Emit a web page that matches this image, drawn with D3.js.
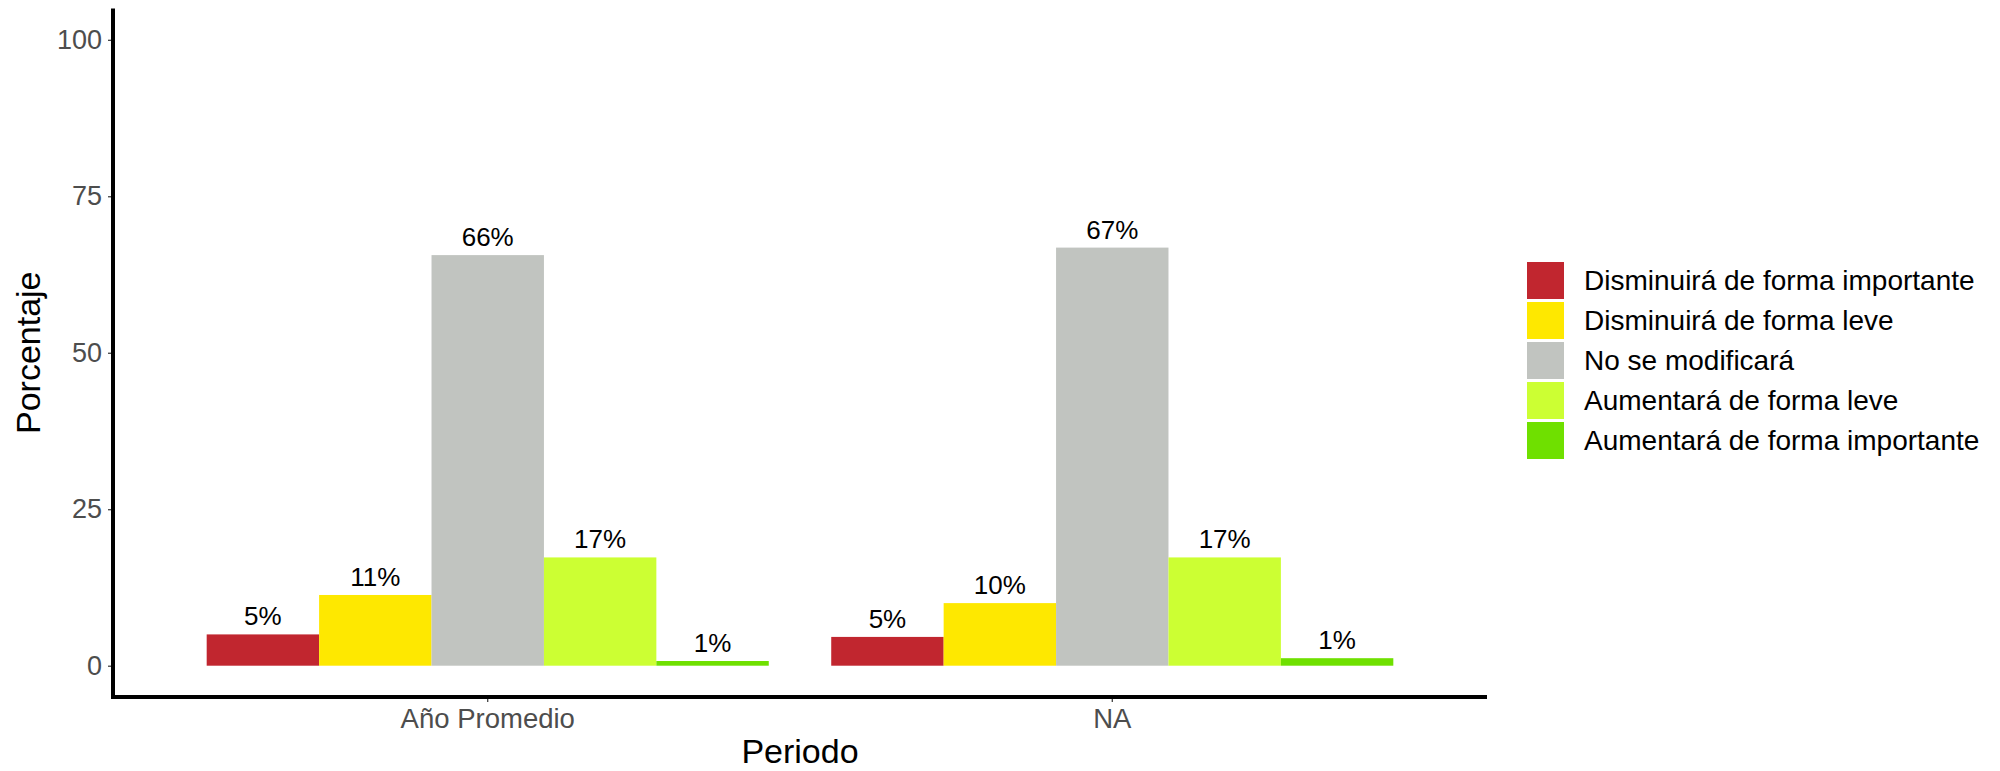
<!DOCTYPE html>
<html>
<head>
<meta charset="utf-8">
<script src="https://cdn.jsdelivr.net/npm/d3@7"></script>
<style>
  html, body { margin: 0; padding: 0; background: #fff; }
  svg { display: block; font-family: "Liberation Sans", Arial, sans-serif; }
</style>
</head>
<body>
<svg id="chart" width="2000" height="771"></svg>
<script>
const periods = ["Año Promedio", "NA"];
const categories = [
  "Disminuirá de forma importante",
  "Disminuirá de forma leve",
  "No se modificará",
  "Aumentará de forma leve",
  "Aumentará de forma importante"
];
const colors = ["#C1262F", "#FEE800", "#C1C4C0", "#CCFF33", "#6FE000"];
const valuesAnoPromedio = [5.0, 11.3, 65.6, 17.3, 0.75];
const valuesNA = [4.6, 10.0, 66.8, 17.3, 1.2];
const yTicks = [0, 25, 50, 75, 100];
const xTitle = "Periodo";
const yTitle = "Porcentaje";

const seriesByPeriod = [valuesAnoPromedio, valuesNA];
const data = [];
periods.forEach((p, i) => {
  categories.forEach((c, j) => {
    data.push({ period: p, category: c, value: seriesByPeriod[i][j], color: colors[j] });
  });
});

const svg = d3.select("#chart");
const panel = { left: 113, right: 1487, top: 8.5, bottom: 697 };

const x = d3.scaleBand()
  .domain(periods)
  .range([panel.left, panel.right])
  .paddingInner(0.1)
  .paddingOuter(0.15);
const xInner = d3.scaleBand()
  .domain(categories)
  .range([0, x.bandwidth()])
  .padding(0);
const y = d3.scaleLinear()
  .domain([-5, 105])
  .range([panel.bottom, panel.top]);
const color = d3.scaleOrdinal().domain(categories).range(colors);

// bars
svg.append("g")
  .selectAll("rect")
  .data(data)
  .join("rect")
  .attr("x", d => x(d.period) + xInner(d.category))
  .attr("width", xInner.bandwidth())
  .attr("y", d => y(Math.max(0, d.value)))
  .attr("height", d => Math.abs(y(0) - y(d.value)))
  .attr("fill", d => color(d.category));

// bar labels
svg.append("g")
  .selectAll("text")
  .data(data)
  .join("text")
  .attr("x", d => x(d.period) + xInner(d.category) + xInner.bandwidth() / 2)
  .attr("y", d => y(d.value) - 9)
  .attr("text-anchor", "middle")
  .attr("font-size", 26)
  .attr("fill", "#000")
  .text(d => Math.round(d.value) + "%");

// y axis
const yAxis = svg.append("g")
  .attr("transform", `translate(${panel.left},0)`)
  .call(d3.axisLeft(y).tickValues(yTicks).tickSize(5).tickPadding(6).tickFormat(d3.format("d")));
yAxis.select(".domain").remove();
yAxis.selectAll(".tick line").attr("stroke", "#333").attr("stroke-width", 1.2);
yAxis.selectAll(".tick text")
  .attr("font-size", 27)
  .attr("fill", "#4d4d4d")
  .attr("font-family", "Liberation Sans, Arial, sans-serif");

// x axis
const xAxis = svg.append("g")
  .attr("transform", `translate(0,${panel.bottom})`)
  .call(d3.axisBottom(x).tickSize(5).tickPadding(6));
xAxis.select(".domain").remove();
xAxis.selectAll(".tick line").attr("stroke", "#333").attr("stroke-width", 1.2);
xAxis.selectAll(".tick text")
  .attr("font-size", 27.5)
  .attr("fill", "#4d4d4d")
  .attr("font-family", "Liberation Sans, Arial, sans-serif");

// axis lines
svg.append("line")
  .attr("x1", panel.left).attr("x2", panel.left)
  .attr("y1", panel.top).attr("y2", panel.bottom + 2)
  .attr("stroke", "#000").attr("stroke-width", 4);
svg.append("line")
  .attr("x1", panel.left - 2).attr("x2", panel.right)
  .attr("y1", panel.bottom).attr("y2", panel.bottom)
  .attr("stroke", "#000").attr("stroke-width", 4);

// axis titles
svg.append("text")
  .attr("x", (panel.left + panel.right) / 2)
  .attr("y", 763)
  .attr("text-anchor", "middle")
  .attr("font-size", 34)
  .attr("fill", "#000")
  .text(xTitle);
svg.append("text")
  .attr("transform", `translate(40,${(panel.top + panel.bottom) / 2}) rotate(-90)`)
  .attr("text-anchor", "middle")
  .attr("font-size", 34)
  .attr("fill", "#000")
  .text(yTitle);

// legend
const legend = svg.append("g").attr("transform", "translate(1527,262)");
const rows = legend.selectAll("g")
  .data(categories)
  .join("g")
  .attr("transform", (d, i) => `translate(0,${i * 40})`);
rows.append("rect")
  .attr("width", 37).attr("height", 37)
  .attr("fill", d => color(d));
rows.append("text")
  .attr("x", 57)
  .attr("y", 18.5)
  .attr("dy", "0.35em")
  .attr("font-size", 28)
  .attr("fill", "#000")
  .text(d => d);
</script>
</body>
</html>
